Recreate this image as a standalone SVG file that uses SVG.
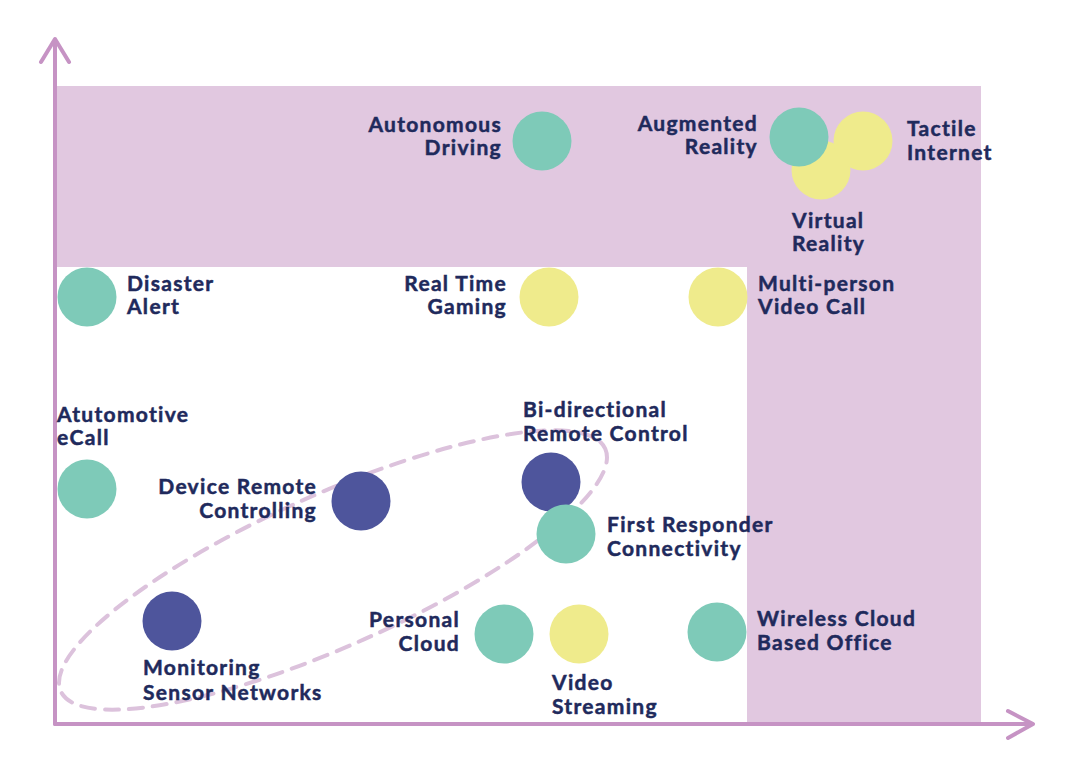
<svg xmlns="http://www.w3.org/2000/svg" width="1074" height="780" viewBox="0 0 1074 780">
<style>
.t{font-family:Lato,"Open Sans",sans-serif;font-weight:700;font-size:21px;fill:#1f2a5c;stroke:#1f2a5c;stroke-width:0.5px;letter-spacing:1.3px}
.r{text-anchor:end}
.teal{fill:#7ecab8}
.yel{fill:#efeb8c}
.blue{fill:#4e559c}
.axis{stroke:#c693c4;stroke-width:4;fill:none;stroke-linecap:round;stroke-linejoin:round}
</style>
<rect x="0" y="0" width="1074" height="780" fill="#ffffff"/>
<g id="zone">
<path d="M56 86 H981 V724 H747 V267 H56 Z" fill="#e1c8e0"/>
</g>
<g id="connectors">
<ellipse cx="333" cy="570" rx="298" ry="76" transform="rotate(-24 333 570)" fill="none" stroke="#dcc2dc" stroke-width="4" stroke-dasharray="14 10" stroke-linecap="round"/>
<path class="axis" d="M55 724 V40 M41 62 L55 39 L69 62"/>
<path class="axis" d="M55 724 H1032 M1008 711 L1033 724 L1008 738"/>
</g>
<g id="autonomous-driving"><circle class="teal" cx="542" cy="141" r="29.5"/><text class="t r" x="502" y="132">Autonomous</text><text class="t r" x="502" y="155">Driving</text></g>
<g id="virtual-reality"><circle class="yel" cx="821" cy="170" r="29.5"/><text class="t" x="792" y="228">Virtual</text><text class="t" x="792" y="251">Reality</text></g>
<g id="tactile-internet"><circle class="yel" cx="863" cy="141" r="29.5"/><text class="t" x="907" y="136">Tactile</text><text class="t" x="907" y="160">Internet</text></g>
<g id="augmented-reality"><circle class="teal" cx="799" cy="137" r="29.5"/><text class="t r" x="758" y="131">Augmented</text><text class="t r" x="758" y="154">Reality</text></g>
<g id="disaster-alert"><circle class="teal" cx="87" cy="297" r="29.5"/><text class="t" x="127" y="291">Disaster</text><text class="t" x="127" y="314">Alert</text></g>
<g id="real-time-gaming"><circle class="yel" cx="549" cy="297" r="29.5"/><text class="t r" x="507" y="291">Real Time</text><text class="t r" x="507" y="314">Gaming</text></g>
<g id="multi-person-video-call"><circle class="yel" cx="718" cy="297" r="29.5"/><text class="t" x="758" y="291">Multi-person</text><text class="t" x="758" y="314">Video Call</text></g>
<g id="automotive-ecall"><circle class="teal" cx="87" cy="489" r="29.5"/><text class="t" x="57" y="422">Atutomotive</text><text class="t" x="57" y="445">eCall</text></g>
<g id="device-remote-controlling"><circle class="blue" cx="361" cy="501" r="29.5"/><text class="t r" x="317" y="494">Device Remote</text><text class="t r" x="317" y="518">Controlling</text></g>
<g id="bi-directional-remote-control"><circle class="blue" cx="551" cy="482" r="29.5"/><text class="t" x="523" y="417">Bi-directional</text><text class="t" x="523" y="441">Remote Control</text></g>
<g id="first-responder-connectivity"><circle class="teal" cx="566" cy="534" r="29.5"/><text class="t" x="607" y="532">First Responder</text><text class="t" x="607" y="556">Connectivity</text></g>
<g id="monitoring-sensor-networks"><circle class="blue" cx="172" cy="621" r="29.5"/><text class="t" x="143" y="675">Monitoring</text><text class="t" x="143" y="700">Sensor Networks</text></g>
<g id="personal-cloud"><circle class="teal" cx="504" cy="634" r="29.5"/><text class="t r" x="460" y="627">Personal</text><text class="t r" x="460" y="651">Cloud</text></g>
<g id="video-streaming"><circle class="yel" cx="579" cy="634" r="29.5"/><text class="t" x="552" y="690">Video</text><text class="t" x="552" y="714">Streaming</text></g>
<g id="wireless-cloud-office"><circle class="teal" cx="717" cy="632" r="29.5"/><text class="t" x="757" y="626">Wireless Cloud</text><text class="t" x="757" y="650">Based Office</text></g>
</svg>
